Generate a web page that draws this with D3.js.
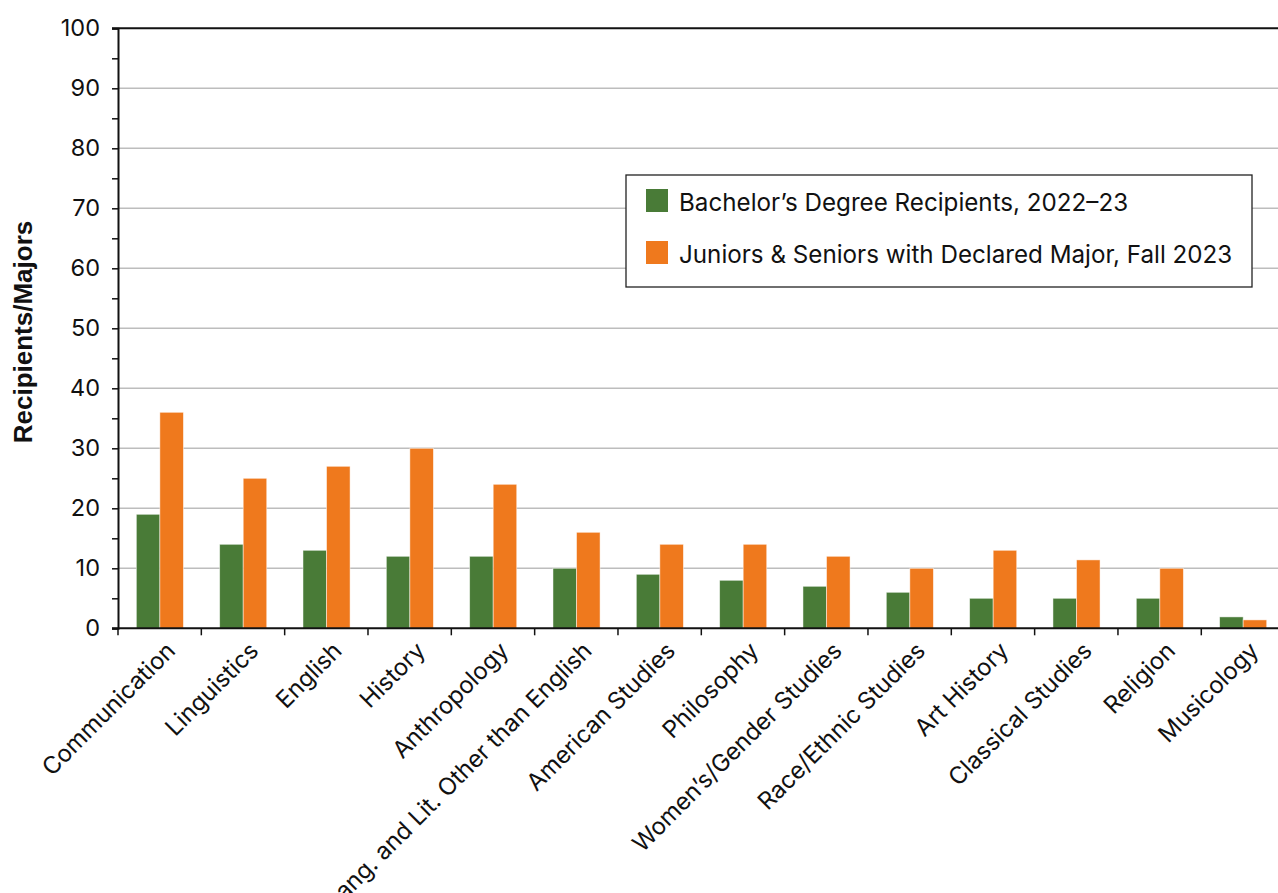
<!DOCTYPE html>
<html>
<head>
<meta charset="utf-8">
<script src="https://cdn.jsdelivr.net/npm/d3@7"></script>
<style>
  html, body { margin: 0; padding: 0; background: #fff; }
  svg { display: block; }
  text { font-family: "Inter", "Lato", sans-serif; fill: #111; }
</style>
</head>
<body>
<svg id="chart" width="1278" height="893"></svg>
<script>
// Humanities fields: degree recipients vs. declared upper-division majors
const categories = [
  "Communication", "Linguistics", "English", "History", "Anthropology",
  "Lang. and Lit. Other than English", "American Studies", "Philosophy",
  "Women\u2019s/Gender Studies", "Race/Ethnic Studies", "Art History",
  "Classical Studies", "Religion", "Musicology"
];
const recipients = [19, 14, 13, 12, 12, 10, 9, 8, 7, 6, 5, 5, 5, 1.9];
const declaredMajors = [36, 25, 27, 30, 24, 16, 14, 14, 12, 10, 13, 11.4, 10, 1.4];
const seriesNames = [
  "Bachelor\u2019s Degree Recipients, 2022\u201323",
  "Juniors & Seniors with Declared Major, Fall 2023"
];
const seriesColors = ["#497b37", "#ef791d"];
const yTicks = [0, 10, 20, 30, 40, 50, 60, 70, 80, 90, 100];
const yMinorTicks = [5, 15, 25, 35, 45, 55, 65, 75, 85, 95];

const svg = d3.select("#chart");
const plotLeft = 118, plotTop = 28.3, plotBottom = 628.3;
const band = 83.33;
const plotRight = plotLeft + band * categories.length;

const x = d3.scaleBand().domain(categories).range([plotLeft, plotRight]).padding(0);
const xs = d3.scaleBand().domain([0, 1]).range([x.bandwidth() * 0.22, x.bandwidth() * 0.785]).padding(0);
const y = d3.scaleLinear().domain([0, 100]).range([plotBottom, plotTop]);

// gridlines
svg.append("g")
  .selectAll("line")
  .data(yTicks.filter(d => d > 0 && d < 100))
  .join("line")
  .attr("x1", plotLeft).attr("x2", plotRight)
  .attr("y1", d => y(d)).attr("y2", d => y(d))
  .attr("stroke", "#bdbdbd").attr("stroke-width", 1.5);

// top frame line
svg.append("line")
  .attr("x1", plotLeft - 6).attr("x2", plotRight)
  .attr("y1", y(100)).attr("y2", y(100))
  .attr("stroke", "#111").attr("stroke-width", 2);

// bars
const rows = categories.map((c, i) => ({ c, v: [recipients[i], declaredMajors[i]] }));
const groups = svg.append("g").selectAll("g")
  .data(rows).join("g")
  .attr("transform", d => `translate(${x(d.c)},0)`);
groups.selectAll("rect")
  .data(d => d.v.map((v, k) => ({ v, k })))
  .join("rect")
  .attr("x", d => xs(d.k))
  .attr("width", xs.bandwidth())
  .attr("y", d => y(d.v))
  .attr("height", d => y(0) - y(d.v))
  .attr("fill", d => seriesColors[d.k])
  .attr("stroke", "#fff")
  .attr("stroke-opacity", 0.6)
  .attr("stroke-width", 0.8);

// y axis
const yAxis = d3.axisLeft(y).tickValues(yTicks).tickSize(6).tickPadding(12).tickFormat(d3.format("d"));
const gy = svg.append("g").attr("transform", `translate(${plotLeft},0)`).call(yAxis);
gy.select(".domain").attr("stroke", "#111").attr("stroke-width", 2);
gy.selectAll(".tick line").attr("stroke", "#111").attr("stroke-width", 1.5);
gy.selectAll(".tick text").attr("font-size", 23.5).attr("fill", "#111")
  .style("font-family", "Inter, Lato, sans-serif");
svg.append("g").attr("transform", `translate(${plotLeft},0)`)
  .call(d3.axisLeft(y).tickValues(yMinorTicks).tickSize(6).tickFormat(""))
  .call(g => g.select(".domain").remove())
  .selectAll(".tick line").attr("stroke", "#111").attr("stroke-width", 1.5);

// x axis
const boundaries = d3.range(categories.length + 1).map(i => plotLeft + i * x.step());
svg.append("line")
  .attr("x1", plotLeft - 6).attr("x2", plotRight)
  .attr("y1", plotBottom).attr("y2", plotBottom)
  .attr("stroke", "#111").attr("stroke-width", 2);
svg.append("g").selectAll("line")
  .data(boundaries).join("line")
  .attr("x1", d => d).attr("x2", d => d)
  .attr("y1", plotBottom).attr("y2", plotBottom + 7)
  .attr("stroke", "#111").attr("stroke-width", 1.5);

svg.append("g").selectAll("text")
  .data(categories).join("text")
  .attr("transform", d => `translate(${x(d) + x.bandwidth() / 2 + 17},${plotBottom + 24}) rotate(-45)`)
  .attr("text-anchor", "end")
  .attr("font-size", 23.8)
  .text(d => d);

// y axis title
svg.append("text")
  .attr("transform", `translate(32,332) rotate(-90)`)
  .attr("text-anchor", "middle")
  .attr("font-size", 26)
  .attr("font-weight", "bold")
  .style("font-family", "'Liberation Sans', Arial, sans-serif")
  .text("Recipients/Majors");

// legend
const lg = svg.append("g").attr("transform", "translate(626,175)");
lg.append("rect")
  .attr("width", 626).attr("height", 112)
  .attr("fill", "#fff").attr("stroke", "#222").attr("stroke-width", 1.3);
seriesNames.forEach((name, i) => {
  lg.append("rect")
    .attr("x", 20).attr("y", 14 + i * 52)
    .attr("width", 22).attr("height", 23)
    .attr("fill", seriesColors[i]);
  lg.append("text")
    .attr("x", 53).attr("y", 36 + i * 52)
    .attr("font-size", 24.2)
    .text(name);
});
</script>
</body>
</html>
